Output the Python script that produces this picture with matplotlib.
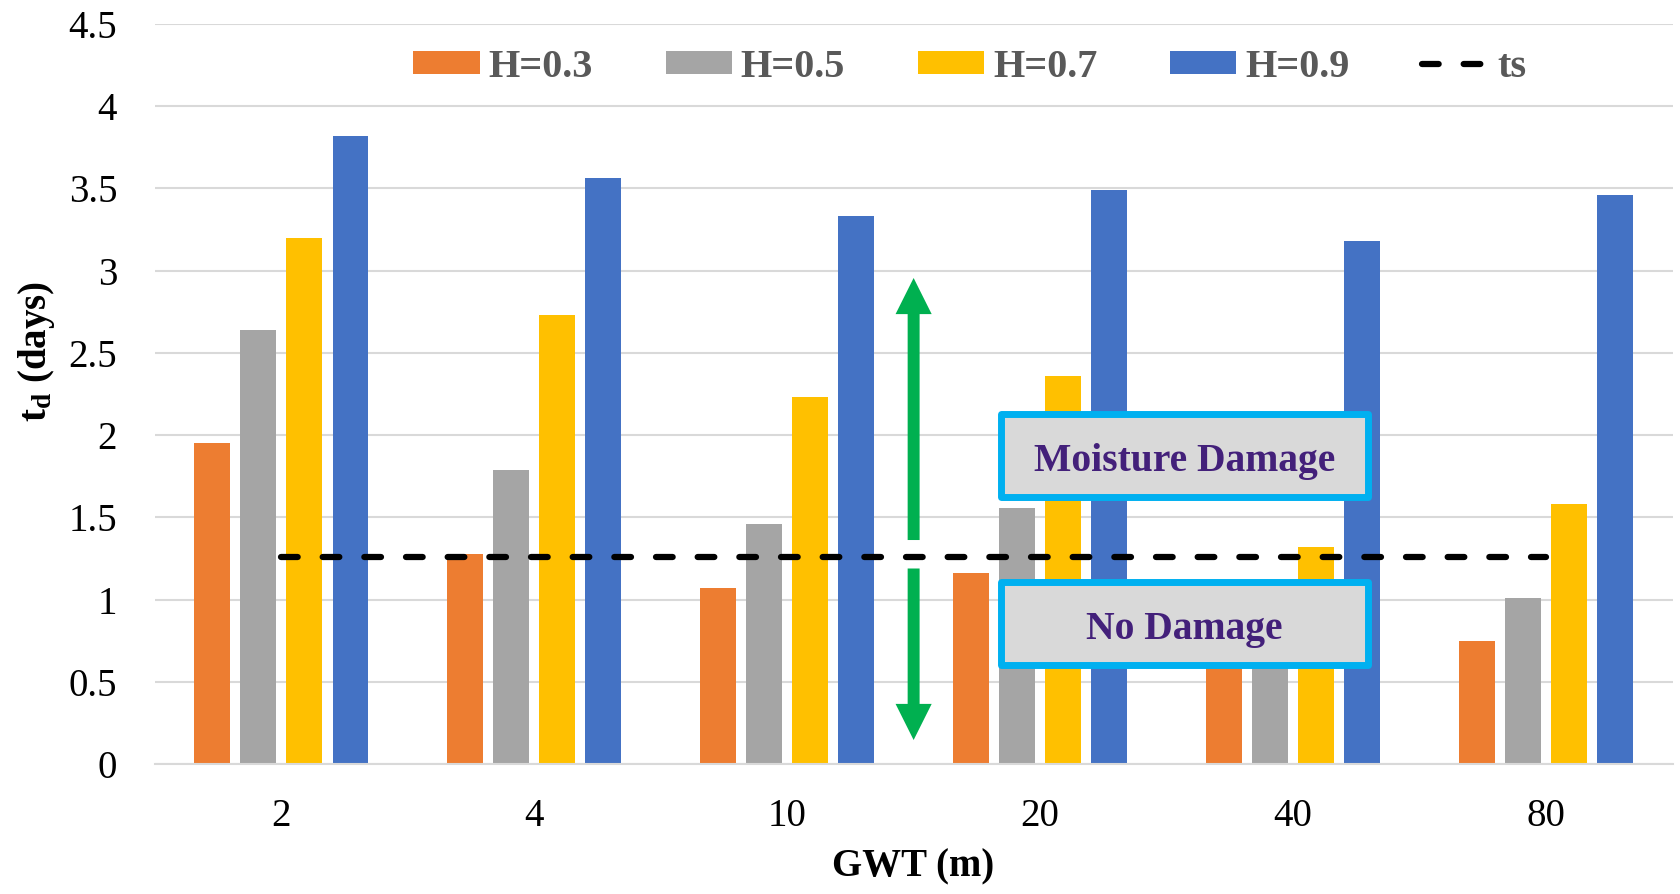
''' td vs GWT bar chart '''
import numpy as np
import matplotlib
matplotlib.use('Agg')
import matplotlib.pyplot as plt
from matplotlib.patches import Rectangle, FancyArrowPatch

plt.rcParams['font.family'] = ['Liberation Serif', 'DejaVu Serif']
plt.rcParams['mathtext.fontset'] = 'custom'
plt.rcParams['mathtext.rm'] = 'Liberation Serif'
plt.rcParams['mathtext.bf'] = 'Liberation Serif:bold'
plt.rcParams['mathtext.it'] = 'Liberation Serif:italic'
plt.rcParams['lines.scale_dashes'] = False

# dados
gwt = ['2', '4', '10', '20', '40', '80']
h03 = [1.95, 1.28, 1.07, 1.16, 0.85, 0.75]
h05 = [2.64, 1.79, 1.46, 1.56, 1.05, 1.01]
h07 = [3.20, 2.73, 2.23, 2.36, 1.32, 1.58]
h09 = [3.82, 3.56, 3.33, 3.49, 3.18, 3.46]
ts = [1.26, 1.26, 1.26, 1.26, 1.26, 1.26]
series = {'H=0.3': h03, 'H=0.5': h05, 'H=0.7': h07, 'H=0.9': h09}
cores = ['#ED7D31', '#A5A5A5', '#FFC000', '#4472C4']

fig = plt.figure(figsize=(16.81, 8.94), dpi=100)
ax = fig.add_axes([0.092, 0.145, 0.903, 0.8285])

x = np.arange(len(gwt))
passo = 0.182
handles = []
for i, (nome, vals) in enumerate(series.items()):
    b = ax.bar(x + (i - 1.5) * passo, vals, width=0.14, color=cores[i],
               label=nome, zorder=2)
    handles.append(b)

linha, = ax.plot(x, ts, color='black', lw=4.5, dashes=(12, 18),
                 dash_capstyle='round', label='ts', zorder=3)
handles.append(linha)

# setas verdes
for y0, y1 in [(1.363, 2.955), (1.19, 0.148)]:
    seta = FancyArrowPatch((2.5, y0), (2.5, y1),
                           arrowstyle='simple,head_length=26,head_width=26,tail_width=8.6',
                           mutation_scale=1, shrinkA=0, shrinkB=0,
                           color='#00B050', lw=0, zorder=4)
    ax.add_patch(seta)

# caixas de texto
for (yb, yt), txt in [((1.622, 2.126), 'Moisture Damage'),
                      ((0.601, 1.105), 'No Damage')]:
    ax.add_patch(Rectangle((2.845, yb), 4.296 - 2.845, yt - yb,
                           facecolor='#D9D9D9', edgecolor='#00B0F0',
                           lw=5, zorder=5, joinstyle='round'))
    ax.text((2.845 + 4.296) / 2, (yb + yt) / 2 - 0.09, txt, ha='center',
            va='baseline', fontsize=28.5, fontweight='bold', color='#43207A',
            zorder=6)

ax.set_xlim(-0.5, 5.5)
ax.set_ylim(0, 4.5)
ax.set_yticks(np.arange(0, 4.51, 0.5))
ax.set_yticklabels(['0', '0.5', '1', '1.5', '2', '2.5', '3', '3.5', '4', '4.5'])
ax.set_xticks(x)
ax.set_xticklabels(gwt)
ax.tick_params(axis='both', length=0, labelsize=28)
ax.tick_params(axis='x', pad=24)
ax.tick_params(axis='y', pad=27)
ax.grid(axis='y', color='#D9D9D9', lw=1.5, zorder=0)
ax.set_axisbelow(True)
for lado in ['top', 'right', 'left']:
    ax.spines[lado].set_visible(False)
ax.spines['bottom'].set_color('#D9D9D9')
ax.spines['bottom'].set_linewidth(1.5)

ax.set_xlabel('GWT (m)', fontsize=28, fontweight='bold', labelpad=10)
ax.set_ylabel(r'$\mathbf{t_d}$ (days)', fontsize=28, fontweight='bold')
ax.yaxis.set_label_coords(-0.0646, 0.557)

leg = ax.legend(handles=handles, loc='center', bbox_to_anchor=(0.577, 0.925),
                bbox_transform=fig.transFigure, ncol=5, frameon=False,
                prop={'size': 29, 'weight': 'bold'}, handlelength=1.65,
                handleheight=0.52, handletextpad=0.22, columnspacing=1.8)
for t in leg.get_texts():
    t.set_color('#595959')

plt.savefig('out.png', dpi=100)
